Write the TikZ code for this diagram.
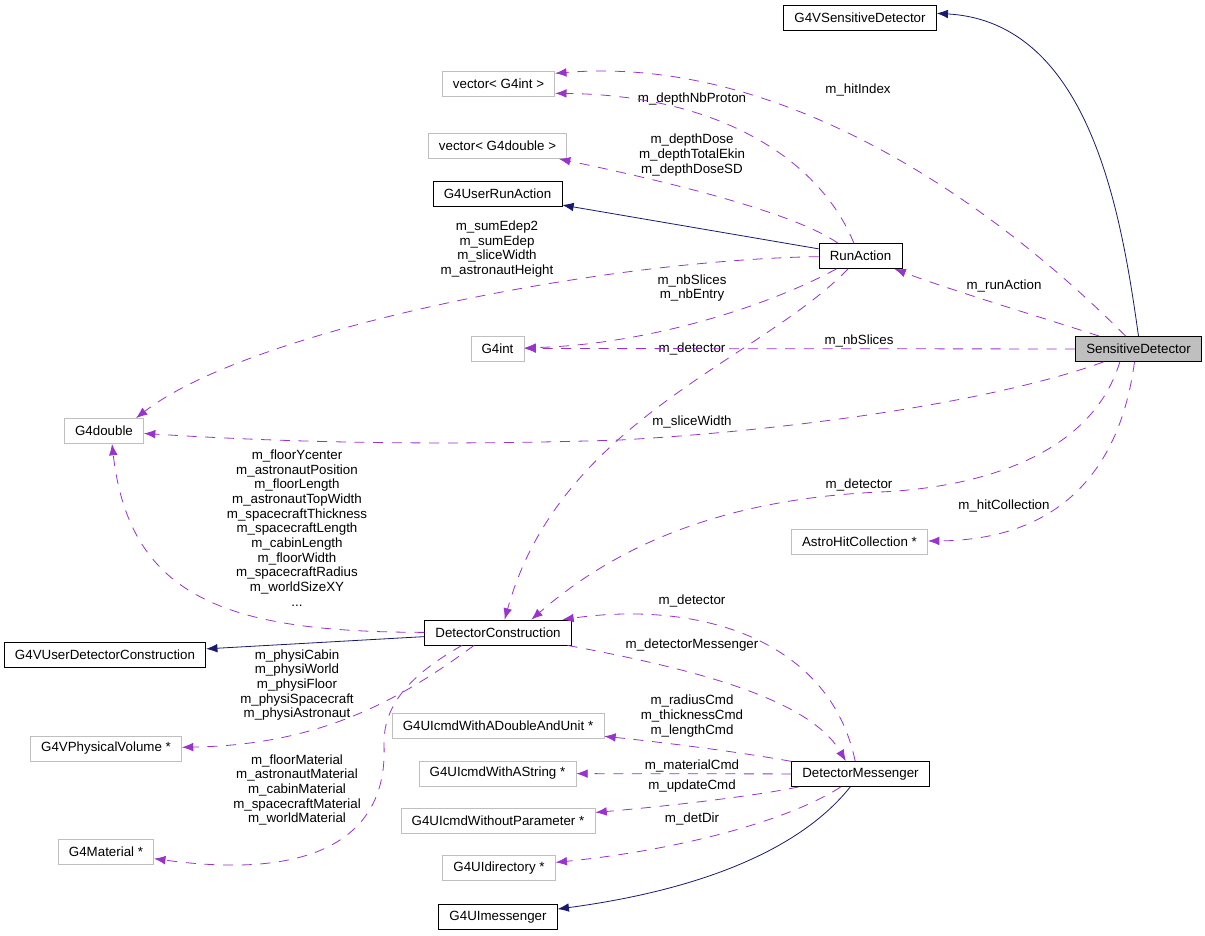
\documentclass[tikz,border=0pt]{standalone}
\usepackage{fontspec}
\setmainfont{Liberation Sans}
\usetikzlibrary{arrows.meta}
\definecolor{dxpurple}{HTML}{9A32CD}
\definecolor{dxnavy}{HTML}{191970}
\definecolor{dxgray}{HTML}{BFBFBF}
\tikzset{
  cls/.style={draw=black, line width=0.6pt, minimum height=18.75pt, inner xsep=8pt, inner ysep=2pt, font=\fontsize{10}{11}\selectfont},
  ext/.style={cls, draw=dxgray},
  cur/.style={cls, fill=dxgray},
  lbl/.style={inner sep=0pt, align=center, font=\fontsize{10}{11}\selectfont},
  inh/.style={->, >={Latex[length=8.5pt,width=6.5pt]}, draw=dxnavy, line width=0.6pt},
  use/.style={->, >={Latex[length=8.5pt,width=6.5pt]}, draw=dxpurple, line width=0.6pt, dash pattern=on 7.5pt off 6.5pt},
}
\begin{document}
\begin{tikzpicture}[x=0.75pt, y=-0.75pt]
        \fill[white] (0,0) rectangle (1205,935);
        \useasboundingbox (0,0) rectangle (1205,935);

        \node[cls] (0) at (860,18) {G4VSensitiveDetector};
        \node[ext] (1) at (498.5,84) {vector< G4int >};
        \node[ext] (2) at (497.5,146) {vector< G4double >};
        \node[cls] (3) at (497.5,194) {G4UserRunAction};
        \node[cls] (4) at (860.5,256) {RunAction};
        \node[ext] (5) at (497.5,348.5) {G4int};
        \node[cur] (6) at (1138.5,349) {SensitiveDetector};
        \node[ext] (7) at (104,431) {G4double};
        \node[ext] (8) at (859.5,541.5) {AstroHitCollection *};
        \node[cls] (9) at (498,632.5) {DetectorConstruction};
        \node[cls] (10) at (105,654.5) {G4VUserDetectorConstruction};
        \node[ext] (11) at (106,748.5) {G4VPhysicalVolume *};
        \node[ext] (12) at (498,725.5) {G4UIcmdWithADoubleAndUnit *};
        \node[ext] (13) at (497.5,773.5) {G4UIcmdWithAString *};
        \node[ext] (14) at (498,821) {G4UIcmdWithoutParameter *};
        \node[cls] (15) at (860.5,774) {DetectorMessenger};
        \node[ext] (16) at (106,852) {G4Material *};
        \node[ext] (17) at (499,868) {G4UIdirectory *};
        \node[cls] (18) at (498,917) {G4UImessenger};

        \node[lbl] (19) at (858,90) {m\_hitIndex};
        \node[lbl] (20) at (692,99) {m\_depthNbProton};
        \node[lbl] (21) at (692,155) {m\_depthDose\\m\_depthTotalEkin\\m\_depthDoseSD};
        \node[lbl] (22) at (497,249) {m\_sumEdep2\\m\_sumEdep\\m\_sliceWidth\\m\_astronautHeight};
        \node[lbl] (23) at (692,288) {m\_nbSlices\\m\_nbEntry};
        \node[lbl] (24) at (1004,286) {m\_runAction};
        \node[lbl] (25) at (859,341) {m\_nbSlices};
        \node[lbl] (26) at (692,349) {m\_detector};
        \node[lbl] (27) at (692,422) {m\_sliceWidth};
        \node[lbl] (28) at (859,485) {m\_detector};
        \node[lbl] (29) at (1004,506) {m\_hitCollection};
        \node[lbl] (30) at (297,528) {m\_floorYcenter\\m\_astronautPosition\\m\_floorLength\\m\_astronautTopWidth\\m\_spacecraftThickness\\m\_spacecraftLength\\m\_cabinLength\\m\_floorWidth\\m\_spacecraftRadius\\m\_worldSizeXY\\...};
        \node[lbl] (31) at (692,601) {m\_detector};
        \node[lbl] (32) at (692,645) {m\_detectorMessenger};
        \node[lbl] (33) at (297,685) {m\_physiCabin\\m\_physiWorld\\m\_physiFloor\\m\_physiSpacecraft\\m\_physiAstronaut};
        \node[lbl] (34) at (692,716) {m\_radiusCmd\\m\_thicknessCmd\\m\_lengthCmd};
        \node[lbl] (35) at (692,766) {m\_materialCmd};
        \node[lbl] (36) at (692,786) {m\_updateCmd};
        \node[lbl] (37) at (297,790) {m\_floorMaterial\\m\_astronautMaterial\\m\_cabinMaterial\\m\_spacecraftMaterial\\m\_worldMaterial};
        \node[lbl] (38) at (692,819) {m\_detDir};

        \draw[inh] (6.north) .. controls (1122,220) and (1092,22) .. ([yshift=3.5pt]0.east);
        \draw[use] (6) .. controls (990,200) and (780,55) .. ([yshift=8pt]1.east);
        \draw[use] ([xshift=-5pt]4.north) .. controls (820,160) and (720,95) .. ([yshift=-7pt]1.east);
        \draw[use] ([xshift=-17pt]4.north) .. controls (790,210) and (650,178) .. (2);
        \draw[inh] (4) -- (3);
        \draw[use] (4) .. controls (600,260) and (250,330) .. ([xshift=-6pt]7.north east);
        \draw[use] (4) .. controls (760,310) and (640,345) .. (5);
        \draw[use] (6) -- (5);
        \draw[use] (6) .. controls (1050,320) and (950,290) .. (4);
        \draw[use] (4) .. controls (760,360) and (560,420) .. ([xshift=5pt]9.north);
        \draw[use] (6) .. controls (1000,400) and (800,430) .. (620,440) .. controls (400,447) and (250,440) .. (7);
        \draw[use] ([xshift=-14pt]6.south) .. controls (1090,460) and (970,488) .. (880,492) .. controls (700,500) and (600,560) .. ([xshift=25pt]9.north);
        \draw[use] ([xshift=-3pt]6.south) .. controls (1120,470) and (1060,540) .. (8);
        \draw[use] (9) .. controls (230,632) and (130,600) .. ([xshift=6pt]7.south);
        \draw[inh] (9) -- (10);
        \draw[use] ([xshift=-18pt]9.south) .. controls (400,700) and (320,745) .. (11);
        \draw[use] ([xshift=-27pt]9.south) .. controls (410,675) and (383,705) .. (384,745) .. controls (388,840) and (310,880) .. (16);
        \draw[use] ([xshift=-4pt]15.north) .. controls (830,640) and (700,600) .. ([xshift=-7pt]9.north east);
        \draw[use] (9) .. controls (700,670) and (810,700) .. ([xshift=-11pt]15.north);
        \draw[use] (15) .. controls (740,752) and (660,742) .. (12);
        \draw[use] (15) -- (13);
        \draw[use] (15) .. controls (760,795) and (680,805) .. (14);
        \draw[use] (15) .. controls (790,820) and (680,850) .. (17);
        \draw[inh] (15) .. controls (800,850) and (700,890) .. (18);
      \end{tikzpicture}
\end{document}
